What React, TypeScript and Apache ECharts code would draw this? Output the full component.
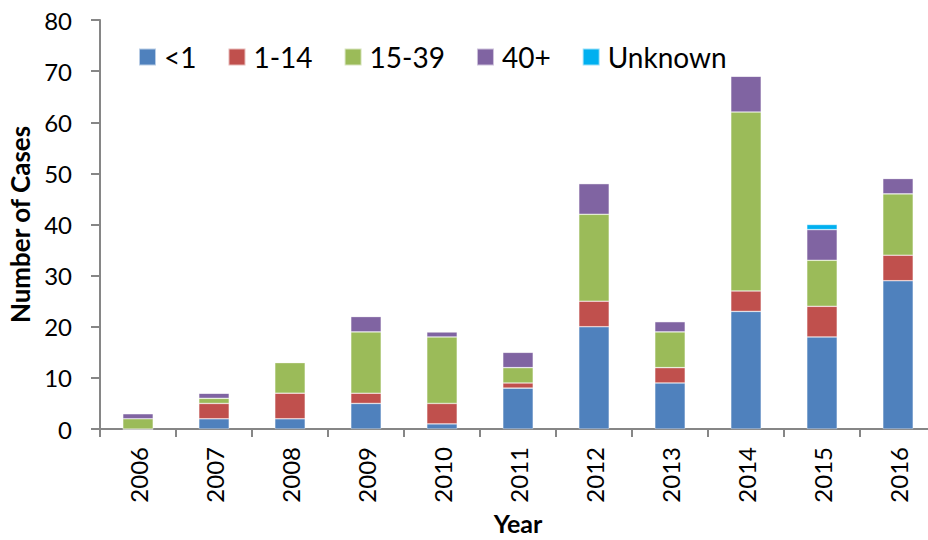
import React, { useEffect, useRef } from "react";
import * as echarts from "echarts";

const years = ["2006", "2007", "2008", "2009", "2010", "2011", "2012", "2013", "2014", "2015", "2016"];
const under1 = [0, 2, 2, 5, 1, 8, 20, 9, 23, 18, 29];
const age1to14 = [0, 3, 5, 2, 4, 1, 5, 3, 4, 6, 5];
const age15to39 = [2, 1, 6, 12, 13, 3, 17, 7, 35, 9, 12];
const age40plus = [1, 1, 0, 3, 1, 3, 6, 2, 7, 6, 3];
const unknown = [0, 0, 0, 0, 0, 0, 0, 0, 0, 1, 0];

const seriesDefs = [
  { name: "<1", data: under1, color: "#4F81BD" },
  { name: "1-14", data: age1to14, color: "#C0504D" },
  { name: "15-39", data: age15to39, color: "#9BBB59" },
  { name: "40+", data: age40plus, color: "#8064A2" },
  { name: "Unknown", data: unknown, color: "#00B0F0" },
];

const FONT = "Lato, 'Open Sans', sans-serif";
const AXIS = "#868686";

export default function App() {
  const ref = useRef<HTMLDivElement>(null);

  useEffect(() => {
    if (!ref.current) return;
    const chart = echarts.init(ref.current, undefined, { renderer: "svg" });
    chart.setOption({
      animation: false,
      backgroundColor: "#ffffff",
      grid: {
        left: 100,
        right: -8,
        top: 20,
        bottom: 111,
        containLabel: false,
        outerBoundsMode: "none",
      },
      legend: {
        left: 138,
        top: 43,
        padding: 0,
        itemWidth: 17,
        itemHeight: 17,
        itemGap: 31,
        icon: "rect",
        textStyle: { fontFamily: FONT, fontSize: 28, color: "#000", padding: [0, 0, 0, 3] },
        data: seriesDefs.map((s) => s.name),
      },
      xAxis: {
        type: "category",
        data: years,
        name: "Year",
        nameLocation: "middle",
        nameGap: 82,
        nameTextStyle: {
          fontFamily: FONT,
          fontSize: 25,
          lineHeight: 22,
          fontWeight: "bold",
          color: "#000",
        },
        axisLine: { lineStyle: { color: AXIS, width: 2 } },
        axisTick: { show: true, length: 8, lineStyle: { color: AXIS, width: 2 } },
        axisLabel: { rotate: 90, fontFamily: FONT, fontSize: 24, color: "#000", margin: 18 },
        splitLine: { show: false },
      },
      yAxis: {
        type: "value",
        min: 0,
        max: 80,
        interval: 10,
        name: "Number of Cases",
        nameLocation: "middle",
        nameGap: 66,
        nameTextStyle: { fontFamily: FONT, fontSize: 26, fontWeight: "bold", color: "#000" },
        axisLine: { show: true, lineStyle: { color: AXIS, width: 2 } },
        axisTick: { show: true, inside: false, length: 9, lineStyle: { color: AXIS, width: 2 } },
        axisLabel: { fontFamily: FONT, fontSize: 24, color: "#000", margin: 28 },
        splitLine: { show: false },
      },
      series: seriesDefs.map((s) => ({
        name: s.name,
        type: "bar",
        stack: "total",
        data: s.data,
        barWidth: "40%",
        itemStyle: { color: s.color, borderColor: "rgba(255,255,255,0.6)", borderWidth: 0.6 },
        emphasis: { disabled: true },
      })),
    });
    return () => chart.dispose();
  }, []);

  return (
    <div
      ref={ref}
      style={{ position: "fixed", left: 0, top: 0, width: 928, height: 540, background: "#fff" }}
    />
  );
}
